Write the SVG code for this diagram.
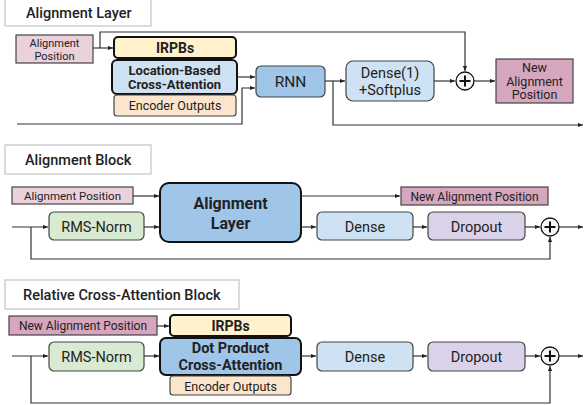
<svg xmlns="http://www.w3.org/2000/svg" width="584" height="405" viewBox="0 0 584 405">
<defs>
<marker id="ah" viewBox="0 0 6 6" refX="6" refY="3" markerWidth="5" markerHeight="5" orient="auto" markerUnits="userSpaceOnUse">
<path d="M0,0.5 L6,3 L0,5.5 z" fill="#222"/>
</marker>
<style>
text{font-family:Roboto,"Liberation Sans",sans-serif;fill:#222;text-anchor:middle}
.title{fill:#fff;stroke:#d0d0d0;stroke-width:1.5}
.tt{font-size:14.5px;font-weight:500;text-anchor:start}
.thin{stroke:#444;stroke-width:1.2}
.thick{stroke:#111;stroke-width:2}
.b{font-weight:700}
.ln{fill:none;stroke:#333;stroke-width:1.2}
.arr{marker-end:url(#ah)}
.pl{fill:#f6f6f6;stroke:#111;stroke-width:1.3}
.pls{stroke:#111;stroke-width:2}
</style>
</defs>

<!-- Section 1: Alignment Layer -->
<g id="title1"><rect class="title" x="5" y="-1" width="146" height="27"/><text class="tt" x="26" y="18">Alignment Layer</text></g>
<g id="align_pos1"><rect class="thin" x="16" y="35" width="77" height="28" fill="#ead1dc"/><text x="54.5" y="47" font-size="11">Alignment</text><text x="54.5" y="59.5" font-size="11">Position</text></g>
<g id="irpbs1"><rect class="thick" x="114" y="37" width="122" height="21" rx="4" fill="#fff2cc"/><text class="b" x="175" y="52.5" font-size="14">IRPBs</text></g>
<g id="locattn"><rect class="thick" x="112" y="60" width="125" height="34" rx="5" fill="#cfe2f3"/><text class="b" x="174.5" y="74.5" font-size="13">Location-Based</text><text class="b" x="174.5" y="89" font-size="13">Cross-Attention</text></g>
<g id="enc1"><rect class="thin" x="114" y="95" width="122" height="21" rx="3" fill="#fce5cd"/><text x="175" y="110" font-size="12.5">Encoder Outputs</text></g>
<g id="rnn"><rect class="thin" x="256" y="66" width="69" height="31" rx="5" fill="#9fc5e8"/><text x="290.5" y="87" font-size="15.5">RNN</text></g>
<g id="dense1"><rect class="thin" x="346" y="61" width="88" height="40" rx="7" fill="#cfe2f3"/><text x="390" y="78" font-size="14.5">Dense(1)</text><text x="390" y="95" font-size="14.5">+Softplus</text></g>
<g id="plus1"><circle class="pl" cx="465" cy="81" r="9"/><path class="pls" d="M459.5,81 H470.5 M465,75.5 V86.5"/></g>
<g id="newpos1"><rect class="thin" x="496" y="59" width="77" height="44" fill="#d5a6bd"/><text x="534.5" y="72" font-size="12.5">New</text><text x="534.5" y="85.5" font-size="12.5">Alignment</text><text x="534.5" y="99" font-size="12.5">Position</text></g>

<!-- Section 2: Alignment Block -->
<g id="title2"><rect class="title" x="5" y="145" width="146" height="29"/><text class="tt" x="25" y="165">Alignment Block</text></g>
<g id="align_pos2"><rect class="thin" x="12" y="187" width="121" height="17" fill="#ead1dc"/><text x="72.5" y="200" font-size="11.5">Alignment Position</text></g>
<g id="rms2"><rect class="thin" x="49" y="212" width="95" height="28" rx="5" fill="#d9ead3"/><text x="96.5" y="231.5" font-size="14.5">RMS-Norm</text></g>
<g id="alayer"><rect class="thick" x="160" y="183" width="141" height="59" rx="9" fill="#9fc5e8"/><text class="b" x="230.5" y="209" font-size="16">Alignment</text><text class="b" x="230.5" y="229" font-size="16">Layer</text></g>
<g id="newpos2"><rect class="thin" x="401" y="187" width="147" height="18" fill="#d5a6bd"/><text x="474.5" y="200.5" font-size="12">New Alignment Position</text></g>
<g id="dense2"><rect class="thin" x="317" y="212" width="96" height="28" rx="5" fill="#cfe2f3"/><text x="365" y="231.5" font-size="14.5">Dense</text></g>
<g id="drop2"><rect class="thin" x="428" y="212" width="97" height="28" rx="5" fill="#d9d2e9"/><text x="476.5" y="231.5" font-size="14.5">Dropout</text></g>
<g id="plus2"><circle class="pl" cx="550" cy="227" r="9"/><path class="pls" d="M544.5,227 H555.5 M550,221.5 V232.5"/></g>

<!-- Section 3: Relative Cross-Attention Block -->
<g id="title3"><rect class="title" x="5" y="280" width="234" height="29"/><text class="tt" x="23" y="300">Relative Cross-Attention Block</text></g>
<g id="newpos3"><rect class="thin" x="9" y="316" width="148" height="19" fill="#d5a6bd"/><text x="83" y="330" font-size="12">New Alignment Position</text></g>
<g id="irpbs3"><rect class="thick" x="170" y="315" width="121" height="21" rx="4" fill="#fff2cc"/><text class="b" x="230.5" y="330.5" font-size="14">IRPBs</text></g>
<g id="dotattn"><rect class="thick" x="160" y="338" width="141" height="37" rx="6" fill="#9fc5e8"/><text class="b" x="230.5" y="353" font-size="14.5">Dot Product</text><text class="b" x="230.5" y="370" font-size="14.5">Cross-Attention</text></g>
<g id="enc3"><rect class="thin" x="170" y="376" width="121" height="19" rx="3" fill="#fce5cd"/><text x="230.5" y="390.5" font-size="12.5">Encoder Outputs</text></g>
<g id="rms3"><rect class="thin" x="49" y="342" width="95" height="29" rx="5" fill="#d9ead3"/><text x="96.5" y="361.5" font-size="14.5">RMS-Norm</text></g>
<g id="dense3"><rect class="thin" x="317" y="342" width="96" height="29" rx="5" fill="#cfe2f3"/><text x="365" y="361.5" font-size="14.5">Dense</text></g>
<g id="drop3"><rect class="thin" x="428" y="342" width="97" height="29" rx="5" fill="#d9d2e9"/><text x="476.5" y="361.5" font-size="14.5">Dropout</text></g>
<g id="plus3"><circle class="pl" cx="550" cy="356" r="9"/><path class="pls" d="M544.5,356 H555.5 M550,350.5 V361.5"/></g>

<!-- Connectors -->
<g id="connectors">
<path class="ln arr" d="M93,48 H113"/>
<path class="ln arr" d="M100,48 V32 H465 V71"/>
<path class="ln arr" d="M17,124 H242 V88 H255"/>
<path class="ln arr" d="M237,77 H255"/>
<path class="ln arr" d="M325,81 H345"/>
<path class="ln arr" d="M333,81 V125 H583"/>
<path class="ln arr" d="M434,81 H455"/>
<path class="ln arr" d="M474,81 H495"/>

<path class="ln arr" d="M133,196 H159"/>
<path class="ln arr" d="M12,227 H48"/>
<path class="ln arr" d="M31,227 V259 H550 V237"/>
<path class="ln arr" d="M144,227 H159"/>
<path class="ln arr" d="M301,196 H400"/>
<path class="ln arr" d="M301,227 H316"/>
<path class="ln arr" d="M413,227 H427"/>
<path class="ln arr" d="M525,227 H540"/>
<path class="ln arr" d="M559,227 H583"/>

<path class="ln arr" d="M157,326 H169"/>
<path class="ln arr" d="M12,356 H48"/>
<path class="ln arr" d="M31,356 V403 H550 V366"/>
<path class="ln arr" d="M144,356 H159"/>
<path class="ln arr" d="M301,356 H316"/>
<path class="ln arr" d="M413,356 H427"/>
<path class="ln arr" d="M525,356 H540"/>
<path class="ln arr" d="M559,356 H583"/>
</g>
</svg>
